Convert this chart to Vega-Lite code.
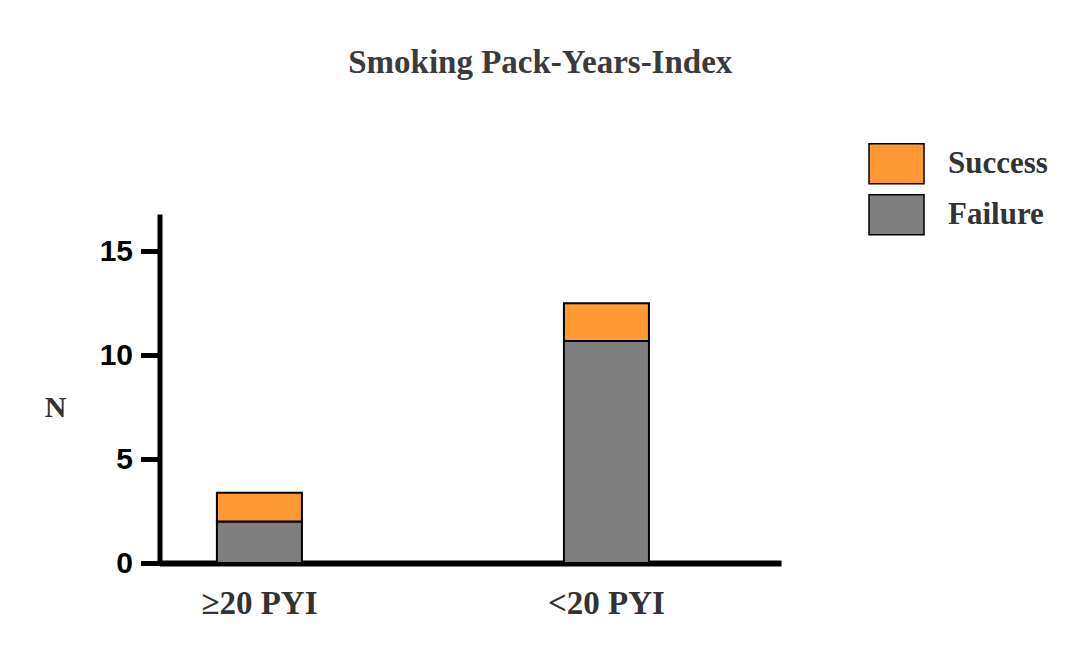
{
  "$schema": "https://vega.github.io/schema/vega-lite/v6.json",
  "width": 621.5,
  "height": 349,
  "autosize": {"type": "none"},
  "padding": {"left": 159.5, "top": 214, "right": 295, "bottom": 106},
  "background": "white",
  "title": {
    "text": "Smoking Pack-Years-Index",
    "font": "Liberation Serif",
    "fontSize": 33,
    "fontWeight": "bold",
    "color": "#3b3b3b",
    "anchor": "middle",
    "frame": "group",
    "dx": 70,
    "dy": -59
  },
  "data": {
    "values": [
      {"group": "≥20 PYI", "outcome": "Failure", "n": 2.0},
      {"group": "≥20 PYI", "outcome": "Success", "n": 1.38},
      {"group": "<20 PYI", "outcome": "Failure", "n": 10.67},
      {"group": "<20 PYI", "outcome": "Success", "n": 1.82}
    ]
  },
  "mark": {"type": "bar", "stroke": "black", "strokeWidth": 2},
  "encoding": {
    "x": {
      "field": "group",
      "type": "nominal",
      "sort": ["≥20 PYI", "<20 PYI"],
      "scale": {"paddingInner": 0.755, "paddingOuter": 0.273, "align": 0.303},
      "axis": {
        "title": null,
        "labelAngle": 0,
        "domainWidth": 6,
        "domainColor": "black",
        "ticks": false,
        "labelFont": "Liberation Serif",
        "labelFontSize": 33,
        "labelFontWeight": "bold",
        "labelColor": "#333333",
        "labelPadding": 24
      }
    },
    "y": {
      "field": "n",
      "type": "quantitative",
      "stack": "zero",
      "scale": {"domain": [0, 16.78], "nice": false},
      "axis": {
        "values": [0, 5, 10, 15],
        "grid": false,
        "domainWidth": 5,
        "domainColor": "black",
        "tickSize": 19,
        "tickWidth": 5,
        "tickColor": "black",
        "labelFont": "Liberation Sans",
        "labelFontSize": 30,
        "labelFontWeight": "bold",
        "labelColor": "black",
        "labelPadding": 8,
        "title": "N",
        "titleAngle": 0,
        "titleFont": "Liberation Serif",
        "titleFontSize": 30,
        "titleFontWeight": "bold",
        "titleColor": "#333333",
        "titleX": -104.5,
        "titleY": 193,
        "titleAlign": "center",
        "titleBaseline": "middle"
      }
    },
    "color": {
      "field": "outcome",
      "type": "nominal",
      "scale": {"domain": ["Success", "Failure"], "range": ["#ff9933", "#7f7f7f"]},
      "legend": {
        "title": null,
        "orient": "none",
        "legendX": 716,
        "legendY": -71.3,
        "padding": 0,
        "symbolType": "M-1.375,-1L1.375,-1L1.375,1L-1.375,1Z",
        "symbolSize": 1600,
        "symbolStrokeColor": "black",
        "symbolStrokeWidth": 1.5,
        "symbolOpacity": 1,
        "labelFont": "Liberation Serif",
        "labelFontSize": 31,
        "labelFontWeight": "bold",
        "labelColor": "#333333",
        "labelOffset": 30.5,
        "labelBaseline": "middle",
        "labelLimit": 300,
        "rowPadding": 5
      }
    },
    "order": {"field": "outcome", "sort": "ascending"}
  },
  "config": {"view": {"stroke": null}}
}
